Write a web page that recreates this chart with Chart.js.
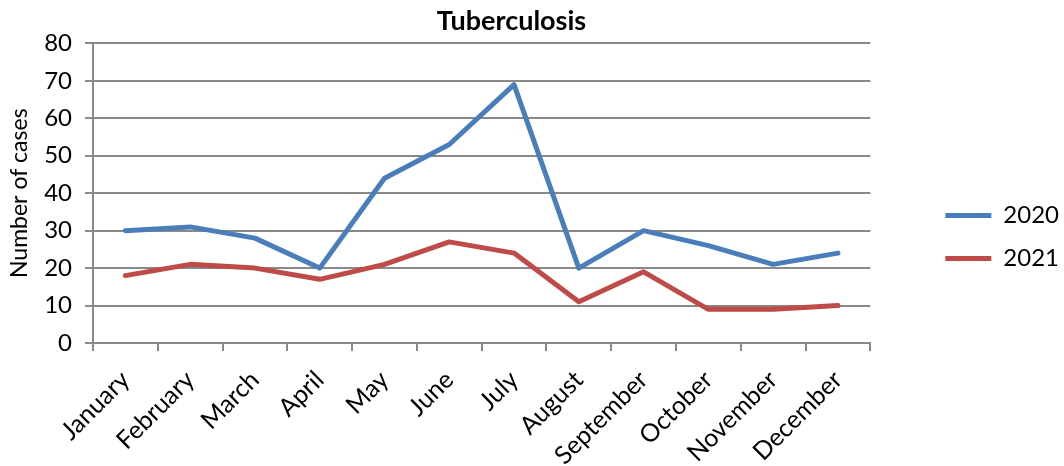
<!DOCTYPE html>
<html>
<head>
<meta charset="utf-8">
<script src="https://cdn.jsdelivr.net/npm/chart.js@4"></script>
<style>
  html, body { margin: 0; padding: 0; background: #fff; }
  #wrap { width: 1064px; height: 466px; }
</style>
</head>
<body>
<div id="wrap"><canvas id="myChart" width="1064" height="466"></canvas></div>
<script>
const months = ["January", "February", "March", "April", "May", "June",
    "July", "August", "September", "October", "November", "December"];
const cases2020 = [30, 31, 28, 20, 44, 53, 69, 20, 30, 26, 21, 24];
const cases2021 = [18, 21, 20, 17, 21, 27, 24, 11, 19, 9, 9, 10];

const gridColor = "#898989";
const font = "Lato, 'Open Sans', sans-serif";

// push the legend further right (and a touch down), leaving a wider gap after the plot
// and nudge the title a few px right
const moveBoxes = {
    id: "moveBoxes",
    afterLayout(chart) {
        const l = chart.legend;
        if (l) {
            l.left += 56; l.right += 56;
            l.top += 4; l.bottom += 4;
        }
        const t = chart.titleBlock;
        if (t) { t.left += 5; t.right += 5; }
    }
};

window.onload = function () {
    const ctx = document.getElementById("myChart").getContext("2d");

    new Chart(ctx, {
        type: "line",
        data: {
            labels: months,
            datasets: [{
                label: "2020",
                data: cases2020,
                borderColor: "#4a7ebb",
                backgroundColor: "#4a7ebb",
                borderWidth: 5,
                borderCapStyle: "round",
                borderJoinStyle: "round",
                pointRadius: 0,
                tension: 0
            }, {
                label: "2021",
                data: cases2021,
                borderColor: "#be4b48",
                backgroundColor: "#be4b48",
                borderWidth: 5,
                borderCapStyle: "round",
                borderJoinStyle: "round",
                pointRadius: 0,
                tension: 0
            }]
        },
        plugins: [moveBoxes],
        options: {
            responsive: false,
            animation: false,
            layout: { padding: { left: 0, right: 51, top: 0, bottom: 0 } },
            plugins: {
                title: {
                    display: true,
                    text: "Tuberculosis",
                    color: "#000",
                    font: { family: font, size: 27, weight: "bold" },
                    padding: { top: 5, bottom: 6 }
                },
                legend: {
                    position: "right",
                    labels: {
                        usePointStyle: true,
                        pointStyle: "line",
                        pointStyleWidth: 46,
                        color: "#000",
                        font: { family: font, size: 24 },
                        padding: 19
                    }
                },
                tooltip: { enabled: false }
            },
            scales: {
                x: {
                    offset: true,
                    afterFit(scale) { scale.height = 123; },
                    grid: {
                        offset: true,
                        drawOnChartArea: false,
                        drawTicks: true,
                        tickLength: 8,
                        color: gridColor,
                        lineWidth: 2
                    },
                    border: { color: gridColor, width: 2 },
                    ticks: {
                        minRotation: 45,
                        maxRotation: 45,
                        color: "#000",
                        font: { family: font, size: 25 },
                        padding: 14
                    }
                },
                y: {
                    min: 0,
                    max: 80,
                    afterFit(scale) { scale.width = 93; },
                    grid: {
                        color: gridColor,
                        lineWidth: 2,
                        tickLength: 8
                    },
                    border: { color: gridColor, width: 2 },
                    ticks: {
                        stepSize: 10,
                        color: "#000",
                        font: { family: font, size: 24 },
                        padding: 13
                    },
                    title: {
                        display: true,
                        text: "Number of cases",
                        color: "#000",
                        font: { family: font, size: 23 },
                        padding: 6
                    }
                }
            }
        }
    });
};
</script>
</body>
</html>
